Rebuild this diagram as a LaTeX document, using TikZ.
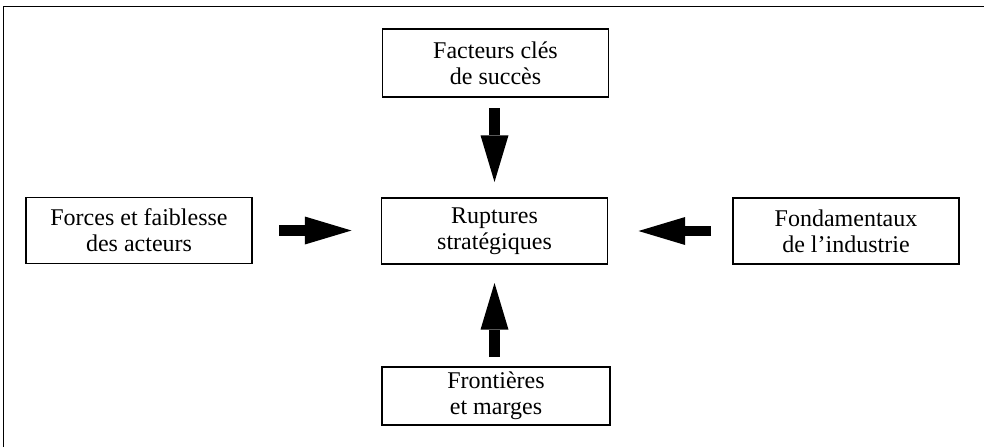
\documentclass[tikz,border=0pt]{standalone}
\usepackage{fontspec}
\setmainfont{Liberation Serif}
\usetikzlibrary{arrows.meta}
\tikzset{
  box/.style={draw, line width=0.9pt, inner sep=0pt, outer sep=0pt,
    minimum width=169.5pt, align=center,
    font=\fontsize{18}{19.5}\selectfont},
  bigarrow/.style={line width=7.9pt,
    -{Triangle[length=35pt, width=21pt, line width=0pt]}},
}
\begin{document}
\begin{tikzpicture}[x=0.75pt, y=-0.75pt]
\useasboundingbox (0,0) rectangle (984,447);
\draw[line width=1.1pt] (3.5,447) -- (3.5,6.5) -- (984,6.5);
\node[box, minimum height=51pt] (top) at (495.5,63) {Facteurs clés\\de succès};
\node[box, minimum height=49.5pt] (mid) at (494.5,231) {Ruptures\\stratégiques};
\node[box, minimum height=49.5pt] (left) at (139,230.5) {Forces et faiblesse\\des acteurs};
\node[box, minimum height=49.5pt] (right) at (846,231) {Fondamentaux\\de l’industrie};
\node[box, minimum height=43.5pt, minimum width=171pt] (bot) at (496,396) {Frontières\\et marges};
\draw[bigarrow, shorten <=8.25pt, shorten >=12pt] (mid.north |- top.south) -- (mid.north);
\draw[bigarrow, shorten <=20.25pt, shorten >=22.5pt] (left.east) -- (left.east -| mid.west);
\draw[bigarrow, shorten <=16.5pt, shorten >=23.25pt] (right.west) -- (right.west -| mid.east);
\draw[bigarrow, shorten <=7.5pt, shorten >=14.25pt] (mid.south |- bot.north) -- (mid.south);
\end{tikzpicture}
\end{document}
